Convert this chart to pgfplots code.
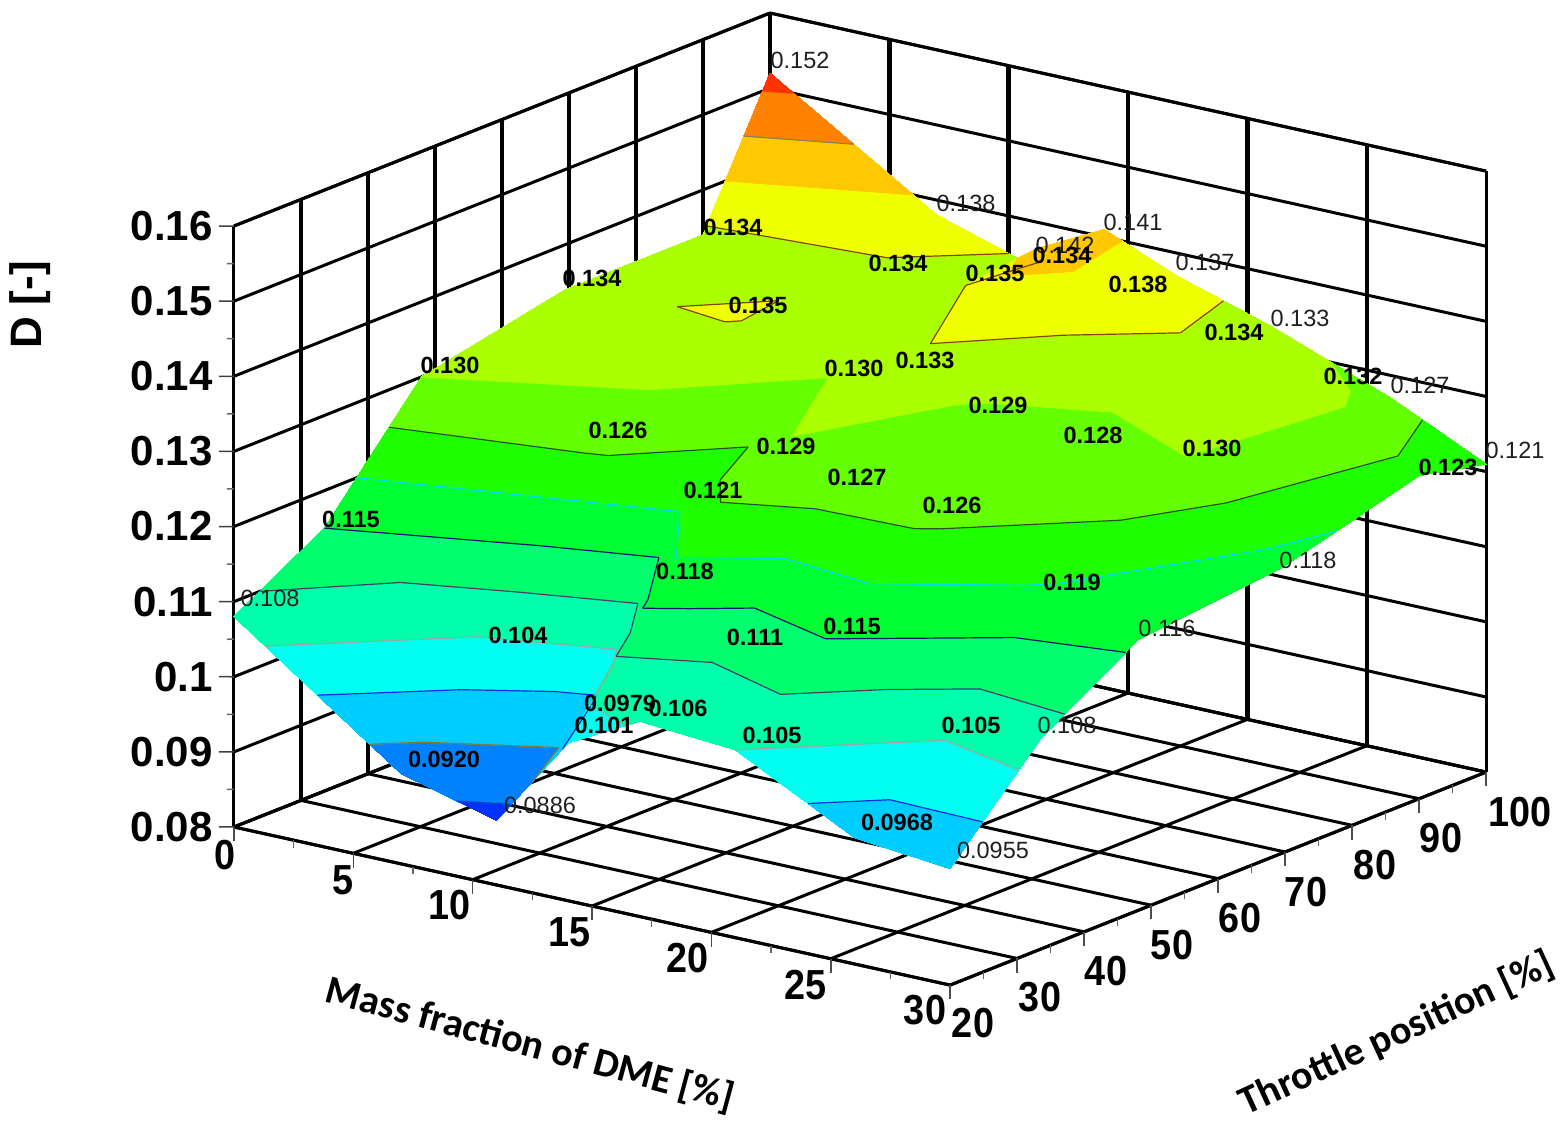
\documentclass[border=0pt]{standalone}
\usepackage{pgfplots}
\usepackage{pgfplotstable}
\usepackage{fontspec}
\setmainfont{Liberation Sans}
\newfontfamily\calib{Carlito}
\pgfplotsset{compat=1.18}
\usepgfplotslibrary{patchplots}
\usetikzlibrary{calc}
\pgfplotstableread{
x y z
0  100 0.152
7  100 0.138
11 100 0.134
14 100 0.141
17 100 0.137
21 100 0.133
26 100 0.127
30 100 0.121

0  90 0.134
7  90 0.134
11 90 0.135
14 90 0.142
17 90 0.138
21 90 0.134
26 90 0.132
30 90 0.123

0  69.5 0.134
7  69.5 0.1355
11 69.5 0.130
14 69.5 0.133
17 69.5 0.129
21 69.5 0.128
26 69.5 0.130
30 69.5 0.118

0  48 0.130
7  48 0.126
11 48 0.121
14 48 0.129
17 48 0.127
21 48 0.126
26 48 0.119
30 48 0.116

0  33.5 0.115
7  33.5 0.104
11 33.5 0.0979
14 33.5 0.118
17 33.5 0.111
21 33.5 0.115
26 33.5 0.105
30 33.5 0.108

0  20 0.108
7  20 0.0920
11 20 0.0886
14 20 0.101
17 20 0.106
21 20 0.105
26 20 0.0968
30 20 0.0955
}\surfdata
% z values of the table, in thousandths, for the contour bands and lines
\foreach \r in {0,...,47}{%
  \pgfplotstablegetelem{\r}{z}\of\surfdata
  \pgfmathsetmacro\v{\pgfplotsretval*1000}%
  \expandafter\xdef\csname zz\r\endcsname{\v}%
}
\definecolor{cl90}{RGB}{0,60,200}
\definecolor{cl95}{RGB}{130,120,60}
\definecolor{cl100}{RGB}{0,40,230}
\definecolor{cl105}{RGB}{150,170,160}
\definecolor{cl110}{RGB}{70,60,110}
\definecolor{cl115}{RGB}{20,20,110}
\definecolor{cl120}{RGB}{0,220,240}
\definecolor{cl125}{RGB}{40,80,40}
\definecolor{cl135}{RGB}{130,70,0}
\definecolor{cl145}{RGB}{140,130,80}
\definecolor{b1}{RGB}{0,50,255}
\definecolor{b2}{RGB}{0,130,255}
\definecolor{b3}{RGB}{0,205,255}
\definecolor{b4}{RGB}{0,255,240}
\definecolor{b5}{RGB}{0,255,170}
\definecolor{b6}{RGB}{0,255,110}
\definecolor{b7}{RGB}{0,255,50}
\definecolor{b8}{RGB}{30,255,0}
\definecolor{b9}{RGB}{100,255,0}
\definecolor{b10}{RGB}{170,255,0}
\definecolor{b11}{RGB}{240,255,0}
\definecolor{b12}{RGB}{255,200,0}
\definecolor{b13}{RGB}{255,130,0}
\definecolor{b14}{RGB}{255,50,0}
\newcount\np
\newcommand\edgecheck[6]{%
  \ifdim#1pt<\lv pt \def\sa{1}\else\def\sa{0}\fi
  \ifdim#2pt<\lv pt \def\sb{1}\else\def\sb{0}\fi
  \if\sa\sb\else
    \advance\np by 1
    \pgfmathsetmacro\ttt{(\lv-#1)/(#2-#1)}%
    \pgfmathsetmacro\px{#3+\ttt*(#5-#3)}%
    \pgfmathsetmacro\py{#4+\ttt*(#6-#4)}%
    \expandafter\xdef\csname P\the\np\endcsname{(\px,\py,\lz)}%
  \fi}
\gdef\allsegs{}
\gdef\allbands{}
\newcommand\addseg[2]{\xdef\allsegs{\unexpanded\expandafter{\allsegs}\noexpand\addplot3[color=\cc,line width=1.2pt,forget plot] coordinates {#1 #2};}}
% one edge of a cell, walked from P to Q, for the band \lo..\hi
\newcommand\addpt[1]{\advance\np by 1 \ifnum\np=1 \edef\pfirst{#1}\fi \edef\poly{\poly #1}}
\newcommand\crossat[7]{% level, zP, zQ, xP, yP, xQ, yQ
  \ifdim#2pt<#1pt \def\sa{1}\else\def\sa{0}\fi
  \ifdim#3pt<#1pt \def\sb{1}\else\def\sb{0}\fi
  \if\sa\sb\else
    \pgfmathsetmacro\ttt{(#1-#2)/(#3-#2)}%
    \pgfmathsetmacro\px{#4+\ttt*(#6-#4)}%
    \pgfmathsetmacro\py{#5+\ttt*(#7-#5)}%
    \pgfmathsetmacro\pz{#1/1000}%
    \addpt{(\px,\py,\pz)}%
  \fi}
\newcommand\walk[6]{%
  \ifdim#1pt<\lo pt \else \ifdim#1pt<\hi pt
    \pgfmathsetmacro\pz{#1/1000}\addpt{(#3,#4,\pz)}%
  \fi\fi
  \ifdim#1pt<#2pt
    \crossat{\lo}{#1}{#2}{#3}{#4}{#5}{#6}\crossat{\hi}{#1}{#2}{#3}{#4}{#5}{#6}%
  \else
    \crossat{\hi}{#1}{#2}{#3}{#4}{#5}{#6}\crossat{\lo}{#1}{#2}{#3}{#4}{#5}{#6}%
  \fi}
\newcommand\cellvalues{%
   \pgfmathtruncatemacro\ra{\i*8+\j}%
   \pgfmathtruncatemacro\rb{\ra+1}%
   \pgfmathtruncatemacro\rc{\ra+9}%
   \pgfmathtruncatemacro\rd{\ra+8}%
   \edef\za{\csname zz\ra\endcsname}\edef\zb{\csname zz\rb\endcsname}%
   \edef\zc{\csname zz\rc\endcsname}\edef\zd{\csname zz\rd\endcsname}%
   \pgfmathsetmacro\xl{{0,7,11,14,17,21,26,30}[\j]}%
   \pgfmathsetmacro\xr{{0,7,11,14,17,21,26,30}[\j+1]}%
   \pgfmathsetmacro\yt{{100,90,69.5,48,33.5,20}[\i]}%
   \pgfmathsetmacro\yb{{100,90,69.5,48,33.5,20}[\i+1]}}
% bands, cell by cell, from the back of the box to the front
\foreach \i in {0,...,4}{%
 \foreach \j in {0,...,6}{%
  \cellvalues
  \foreach \lo/\hi/\bc in {0/90/b1,90/95/b2,95/100/b3,100/105/b4,105/110/b5,110/115/b6,115/120/b7,120/125/b8,125/130/b9,130/135/b10,135/140/b11,140/145/b12,145/150/b13,150/999/b14}{%
   \np=0 \def\poly{}%
   \walk{\za}{\zb}{\xl}{\yt}{\xr}{\yt}%
   \walk{\zb}{\zc}{\xr}{\yt}{\xr}{\yb}%
   \walk{\zc}{\zd}{\xr}{\yb}{\xl}{\yb}%
   \walk{\zd}{\za}{\xl}{\yb}{\xl}{\yt}%
   \ifnum\np>2
     \xdef\allbands{\unexpanded\expandafter{\allbands}\noexpand\addplot3[draw=\bc,fill=\bc,line width=0.7pt,forget plot] coordinates {\poly\pfirst};}%
   \fi
  }}}
\foreach \lv/\lz/\cc in {90/0.09/cl90,95/0.095/cl95,100/0.1/cl100,105/0.105/cl105,110/0.11/cl110,115/0.115/cl115,120/0.12/cl120,125/0.125/cl125,135/0.135/cl135,145/0.145/cl145}{%
 \foreach \i in {0,...,4}{%
  \foreach \j in {0,...,6}{%
   \cellvalues
   \np=0
   \edgecheck{\za}{\zb}{\xl}{\yt}{\xr}{\yt}%
   \edgecheck{\zb}{\zc}{\xr}{\yt}{\xr}{\yb}%
   \edgecheck{\zc}{\zd}{\xr}{\yb}{\xl}{\yb}%
   \edgecheck{\zd}{\za}{\xl}{\yb}{\xl}{\yt}%
   \ifnum\np=2 \addseg{\csname P1\endcsname}{\csname P2\endcsname}\fi
   \ifnum\np=4
     \addseg{\csname P1\endcsname}{\csname P4\endcsname}%
     \addseg{\csname P2\endcsname}{\csname P3\endcsname}%
   \fi
  }}}
\newcommand\lab[3]{\node[inner sep=0pt,font=\fontsize{23.5}{24}\selectfont\bfseries,text=black] at ($(o)+({#1-234},{827-#2})$) {#3};}
\newcommand\labe[3]{\node[inner sep=0pt,font=\fontsize{23.5}{24}\selectfont,text=black!88] at ($(o)+({#1-234},{827-#2})$) {#3};}
\newcommand\tl[3]{\node[inner sep=0pt,font=\fontsize{42}{42}\selectfont\bfseries] at ($(o)+({#1-234},{827-#2})$) {\scalebox{.9}[1]{#3}};}
\begin{document}
\begin{tikzpicture}[x=1pt,y=1pt]
\begin{axis}[
  x={(23.87pt,-5.27pt)}, y={(6.7pt,2.6625pt)}, z={(0pt,7512pt)},
  xmin=0,xmax=30,ymin=20,ymax=100,zmin=0.08,zmax=0.16,
  xtick={0,5,...,30}, ytick={20,30,...,100},
  xticklabels={}, yticklabels={},
  ztick={0.08,0.09,0.10,0.11,0.12,0.13,0.14,0.15,0.16},
  zticklabels={0.08,0.09,0.1,0.11,0.12,0.13,0.14,0.15,0.16},
  grid=major,
  major grid style={black,line width=3pt},
  axis line style={black,line width=3pt},
  major tick length=0pt, minor tick length=0pt,
  tick style={draw=none},
  tick label style={font=\fontsize{42}{42}\selectfont\bfseries},
  zticklabel style={anchor=east,xshift=-18pt},
  colormap={dme}{rgb255=(0,50,255) rgb255=(0,130,255) rgb255=(0,205,255) rgb255=(0,255,240) rgb255=(0,255,170) rgb255=(0,255,110) rgb255=(0,255,50) rgb255=(30,255,0) rgb255=(100,255,0) rgb255=(170,255,0) rgb255=(240,255,0) rgb255=(255,200,0) rgb255=(255,130,0) rgb255=(255,50,0)},
  colormap access=piecewise constant,
  point meta min=0.085, point meta max=0.155,
  clip=false,
]
% thick upright grid lines of the two walls
\foreach \yy in {30,40,...,100}{\edef\tmp{\noexpand\addplot3[black,line width=4.5pt,forget plot] coordinates {(0,\yy,0.08)(0,\yy,0.16)};}\tmp}
\foreach \xx in {5,10,...,25}{\edef\tmp{\noexpand\addplot3[black,line width=4.5pt,forget plot] coordinates {(\xx,100,0.08)(\xx,100,0.16)};}\tmp}
% tick marks
\foreach \xx in {0,5,...,30}{\edef\tmp{\noexpand\addplot3[black!70,line width=1.5pt,forget plot] coordinates {(\xx,20,0.08)(\xx,20,0.0781)};}\tmp}
\foreach \xx in {2.5,7.5,...,27.5}{\edef\tmp{\noexpand\addplot3[black!60,line width=1.5pt,forget plot] coordinates {(\xx,20,0.08)(\xx,20,0.079)};}\tmp}
\foreach \yy in {20,30,...,100}{\edef\tmp{\noexpand\addplot3[black!70,line width=1.5pt,forget plot] coordinates {(30,\yy,0.08)(30,\yy,0.0781)};}\tmp}
\foreach \yy in {25,35,...,95}{\edef\tmp{\noexpand\addplot3[black!60,line width=1.5pt,forget plot] coordinates {(30,\yy,0.08)(30,\yy,0.079)};}\tmp}
\foreach \zz in {0.08,0.09,0.10,0.11,0.12,0.13,0.14,0.15,0.16}{\pgfmathsetmacro\zb{\zz-0.00044}\edef\tmp{\noexpand\addplot3[black!75,line width=1.5pt,forget plot] coordinates {(0,20,\zz)(-0.63,20,\zb)};}\tmp}
\foreach \zz in {0.085,0.095,0.105,0.115,0.125,0.135,0.145,0.155}{\pgfmathsetmacro\zb{\zz-0.00022}\edef\tmp{\noexpand\addplot3[black!60,line width=1.5pt,forget plot] coordinates {(0,20,\zz)(-0.3,20,\zb)};}\tmp}
\addplot3[surf,shader=interp,patch type=bilinear,mesh/rows=6,mesh/cols=8,point meta=z] table[x=x,y=y,z=z] {\surfdata};
\allbands
\allsegs
\coordinate (o) at (axis cs:0,20,0.08);
\end{axis}
\useasboundingbox ($(o)+(-234pt,827pt)$) rectangle ($(o)+(1333pt,-297pt)$);
\node[rotate=90,font=\fontsize{44}{44}\selectfont\bfseries] at ($(o)+({30-234},{827-305})$) {D [-]};
\node[rotate=-15,font=\calib\fontsize{40}{40}\selectfont\bfseries] at ($(o)+({530-234},{827-1045})$) {Mass fraction of DME [\%]};
\node[rotate=24.7,font=\calib\fontsize{40}{40}\selectfont\bfseries] at ($(o)+({1397-234},{827-1034})$) {Throttle position [\%]};
\tl{225}{855}{0}
\tl{343}{880}{5}
\tl{450}{905}{10}
\tl{570}{932}{15}
\tl{688}{958}{20}
\tl{806}{985}{25}
\tl{925}{1010}{30}
\tl{973}{1023}{20}
\tl{1040}{997}{30}
\tl{1106}{971}{40}
\tl{1172}{945}{50}
\tl{1240}{918}{60}
\tl{1306}{892}{70}
\tl{1375}{865}{80}
\tl{1441}{838}{90}
\tl{1520}{812}{100}
\labe{800}{60}{0.152}
\labe{966}{203}{0.138}
\labe{1065}{245}{0.142}
\labe{1133}{222}{0.141}
\labe{1205}{262}{0.137}
\labe{1300}{318}{0.133}
\labe{1420}{385}{0.127}
\labe{1515}{450}{0.121}
\lab{733}{227}{0.134}
\lab{898}{263}{0.134}
\lab{995}{273}{0.135}
\lab{1062}{255}{0.134}
\lab{1138}{284}{0.138}
\lab{1234}{332}{0.134}
\lab{1353}{376}{0.132}
\lab{1448}{467}{0.123}
\lab{592}{278}{0.134}
\lab{758}{305}{0.135}
\lab{925}{360}{0.133}
\lab{854}{368}{0.130}
\lab{998}{405}{0.129}
\lab{1093}{435}{0.128}
\lab{1212}{448}{0.130}
\lab{450}{365}{0.130}
\lab{618}{430}{0.126}
\lab{786}{446}{0.129}
\lab{857}{477}{0.127}
\lab{952}{505}{0.126}
\lab{1072}{582}{0.119}
\labe{1308}{560}{0.118}
\lab{713}{490}{0.121}
\lab{351}{519}{0.115}
\lab{685}{571}{0.118}
\lab{852}{626}{0.115}
\labe{1167}{628}{0.116}
\lab{755}{637}{0.111}
\labe{270}{598}{0.108}
\lab{518}{635}{0.104}
\lab{620}{703}{0.0979}
\lab{604}{725}{0.101}
\lab{678}{708}{0.106}
\lab{772}{735}{0.105}
\lab{971}{725}{0.105}
\labe{1067}{725}{0.108}
\lab{444}{759}{0.0920}
\labe{540}{805}{0.0886}
\lab{897}{822}{0.0968}
\labe{993}{850}{0.0955}
\end{tikzpicture}
\end{document}
